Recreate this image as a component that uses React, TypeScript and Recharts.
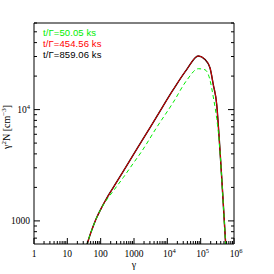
import { LineChart, Line, XAxis, YAxis } from "recharts"

// Lorentz factor grid
const gamma = [38, 45, 60, 75, 95, 150, 240, 480, 950, 1700, 4800, 15000, 38000, 85000, 135000, 190000, 239000, 303000, 362000, 428000, 564000]

// gamma^2 N [cm^-3] at each epoch
const nEarly = [596, 706, 900, 1060, 1230, 1540, 1860, 2460, 3290, 4210, 6920, 11600, 18300, 23300, 22800, 18500, 13000, 8300, 5100, 2400, 600]
const nMid = [596, 706, 900, 1060, 1230, 1590, 2000, 2800, 3920, 5200, 8650, 15100, 22900, 30300, 28200, 23800, 16800, 11100, 5370, 2450, 610]
const nLate = [596, 706, 900, 1060, 1230, 1590, 2000, 2800, 3920, 5200, 8650, 15100, 22900, 30300, 28200, 23800, 16800, 11100, 5370, 2450, 610]

const legendLabels = ["t/Γ=50.05 ks", "t/Γ=454.56 ks", "t/Γ=859.06 ks"]
const legendColors = ["#00ee00", "#ff0000", "#000000"]

const xDomain = [1, 1e6]
const yDomain = [620, 60000]

const logTicks = (lo: number, hi: number) => {
  const out: number[] = []
  for (let d = Math.pow(10, Math.floor(Math.log10(lo))); d <= hi; d *= 10) {
    for (let k = 1; k <= 9; k++) {
      const v = Math.round(d * k)
      if (v >= lo && v <= hi) out.push(v)
    }
  }
  return out
}
const xTicks = logTicks(1, 1e6)
const yTicks = logTicks(620, 60000)

const data = gamma.map((g, i) => ({ gamma: g, early: nEarly[i], mid: nMid[i], late: nLate[i] }))

const FONT = "'Liberation Serif', serif"
const LEGEND_FONT = "'Liberation Sans', sans-serif"
const isMajor = (v: number) => Math.abs(Math.log10(v) - Math.round(Math.log10(v))) < 1e-9

function TickText({ v, x, y, anchor }: { v: number; x: number; y: number; anchor: "middle" | "end" }) {
  const e = Math.round(Math.log10(v))
  if (e <= 3) {
    return (
      <text x={x} y={y} textAnchor={anchor} fontFamily={FONT} fontSize={9.5} fill="#000">
        {String(v)}
      </text>
    )
  }
  return (
    <text x={x} y={y} textAnchor={anchor} fontFamily={FONT} fontSize={9.5} fill="#000">
      10<tspan dy={-4} fontSize={6.5}>{e}</tspan>
    </text>
  )
}

const BottomTick = (p: any) => {
  const v = p.payload.value
  const major = isMajor(v)
  return (
    <g>
      <line x1={p.x} x2={p.x} y1={p.y} y2={p.y - (major ? 6 : 3)} stroke="#000" />
      {major && <TickText v={v} x={p.x + (v > 1000 ? 2 : 0)} y={p.y + 13} anchor="middle" />}
    </g>
  )
}

const TopTick = (p: any) => {
  const major = isMajor(p.payload.value)
  return <line x1={p.x} x2={p.x} y1={p.y} y2={p.y + (major ? 6 : 3)} stroke="#000" />
}

const LeftTick = (p: any) => {
  const v = p.payload.value
  const major = isMajor(v)
  return (
    <g>
      <line x1={p.x} x2={p.x + (major ? 6 : 3)} y1={p.y} y2={p.y} stroke="#000" />
      {major && <TickText v={v} x={p.x - 4} y={p.y + 3.5} anchor="end" />}
    </g>
  )
}

const RightTick = (p: any) => {
  const major = isMajor(p.payload.value)
  return <line x1={p.x} x2={p.x - (major ? 6 : 3)} y1={p.y} y2={p.y} stroke="#000" />
}

const YTitle = () => {
  const x = 9.5
  const y = 127
  return (
    <text x={x} y={y} transform={`rotate(-90, ${x}, ${y})`} textAnchor="middle" fontFamily={FONT} fontSize={10} fill="#000">
      γ<tspan dy={-4} fontSize={7}>2</tspan>
      <tspan dy={4}>N [cm</tspan>
      <tspan dy={-4} fontSize={7}>−3</tspan>
      <tspan dy={4}>]</tspan>
    </text>
  )
}

const XTitle = ({ viewBox }: any) => (
  <text x={viewBox.x + viewBox.width / 2} y={viewBox.y + 24} textAnchor="middle" fontFamily={FONT} fontSize={10} fill="#000">
    γ
  </text>
)

export default function App() {
  return (
    <div style={{ position: "absolute", left: 0, top: 0, width: 274, height: 274, background: "#fff" }}>
      <LineChart width={274} height={274} data={data} margin={{ top: 22, right: 39, bottom: 29, left: 33 }}>
        <XAxis
          dataKey="gamma"
          type="number"
          scale="log"
          domain={xDomain}
          allowDataOverflow
          ticks={xTicks}
          interval={0}
          height={1}
          tickSize={0}
          tickMargin={0}
          tickLine={false}
          axisLine={{ stroke: "#000" }}
          tick={BottomTick}
          label={<XTitle />}
        />
        <XAxis
          xAxisId="top"
          orientation="top"
          type="number"
          scale="log"
          domain={xDomain}
          allowDataOverflow
          ticks={xTicks}
          interval={0}
          height={1}
          tickSize={0}
          tickMargin={0}
          tickLine={false}
          axisLine={{ stroke: "#000" }}
          tick={TopTick}
        />
        <YAxis
          type="number"
          scale="log"
          domain={yDomain}
          allowDataOverflow
          ticks={yTicks}
          interval={0}
          width={1}
          tickSize={0}
          tickMargin={0}
          tickLine={false}
          axisLine={{ stroke: "#000" }}
          tick={LeftTick}
          label={<YTitle />}
        />
        <YAxis
          yAxisId="right"
          orientation="right"
          type="number"
          scale="log"
          domain={yDomain}
          allowDataOverflow
          ticks={yTicks}
          interval={0}
          width={1}
          tickSize={0}
          tickMargin={0}
          tickLine={false}
          axisLine={{ stroke: "#000" }}
          tick={RightTick}
        />
        <Line dataKey="late" type="monotone" stroke="#000" strokeWidth={1.4} dot={false} isAnimationActive={false} />
        <Line dataKey="mid" type="monotone" stroke="#e00000" strokeWidth={1} dot={false} isAnimationActive={false} />
        <Line dataKey="early" type="monotone" stroke="#00ee00" strokeWidth={1} strokeDasharray="4 3" dot={false} isAnimationActive={false} />
      </LineChart>
      <svg width={274} height={274} style={{ position: "absolute", left: 0, top: 0, pointerEvents: "none" }}>
        {legendLabels.map((t, i) => (
          <text key={t} x={43} y={35.5 + i * 11.2} fontFamily={LEGEND_FONT} fontSize={9.5} letterSpacing={0.1} fill={legendColors[i]}>
            {t}
          </text>
        ))}
      </svg>
    </div>
  )
}
